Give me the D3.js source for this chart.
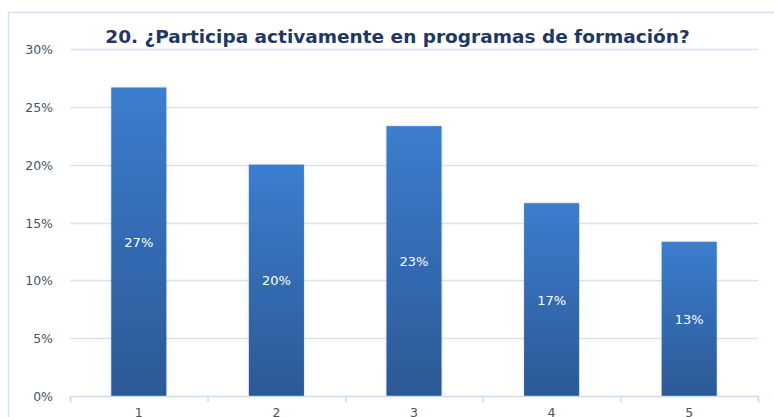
<!DOCTYPE html>
<html>
<head>
<meta charset="utf-8">
<script src="https://cdn.jsdelivr.net/npm/d3@7"></script>
<style>
  body { margin: 0; background: #fff; }
  svg { display: block; font-family: "DejaVu Sans", Verdana, sans-serif; }
</style>
</head>
<body>
<div id="chart"></div>
<script>
const categories = ["1", "2", "3", "4", "5"];
const values = [26.67, 20, 23.33, 16.67, 13.33];
const yTicks = [0, 5, 10, 15, 20, 25, 30];
const title = "20. ¿Participa activamente en programas de formación?";

const width = 774;
const height = 417;
const margin = { top: 49, right: 16, bottom: 21, left: 70 };

const svg = d3.select("#chart")
  .append("svg")
  .attr("width", width)
  .attr("height", height);

const defs = svg.append("defs");
const grad = defs.append("linearGradient")
  .attr("id", "barGrad")
  .attr("x1", 0).attr("y1", 0).attr("x2", 0).attr("y2", 1);
grad.append("stop").attr("offset", "0%").attr("stop-color", "#3b7dcf");
grad.append("stop").attr("offset", "100%").attr("stop-color", "#2c5995");

const shadow = defs.append("filter").attr("id", "shadow")
  .attr("x", "-20%").attr("y", "-5%").attr("width", "140%").attr("height", "110%");
shadow.append("feDropShadow").attr("dx", 0).attr("dy", 0).attr("stdDeviation", 1.2)
  .attr("flood-color", "#000").attr("flood-opacity", 0.22);

// chart frame (runs off the right and bottom edges)
svg.append("rect")
  .attr("x", 8.5).attr("y", 12.5)
  .attr("width", 800).attr("height", 440)
  .attr("fill", "none")
  .attr("stroke", "#d6e2f1")
  .attr("stroke-width", 1.5);

const x = d3.scaleBand()
  .domain(categories)
  .range([margin.left, width - margin.right])
  .paddingInner(0.6)
  .paddingOuter(0.3);

const y = d3.scaleLinear()
  .domain([0, 30])
  .range([height - margin.bottom, margin.top]);

// gridlines
svg.append("g")
  .selectAll("line")
  .data(yTicks.filter(d => d > 0))
  .enter().append("line")
  .attr("x1", margin.left)
  .attr("x2", width - margin.right)
  .attr("y1", d => Math.round(y(d)) + 0.5)
  .attr("y2", d => Math.round(y(d)) + 0.5)
  .attr("stroke", "#d9e3f1")
  .attr("stroke-width", 1.5);

// y labels
svg.append("g")
  .selectAll("text")
  .data(yTicks)
  .enter().append("text")
  .attr("x", 53)
  .attr("y", d => y(d) + 5)
  .attr("text-anchor", "end")
  .attr("fill", "#44546a")
  .attr("font-size", 12.5)
  .text(d => d + "%");

// bars
svg.append("g")
  .selectAll("rect")
  .data(values)
  .enter().append("rect")
  .attr("x", (d, i) => x(categories[i]))
  .attr("y", d => y(d))
  .attr("width", x.bandwidth())
  .attr("height", d => y(0) - y(d))
  .attr("fill", "url(#barGrad)")
  .attr("filter", "url(#shadow)");

// data labels
svg.append("g")
  .selectAll("text")
  .data(values)
  .enter().append("text")
  .attr("x", (d, i) => x(categories[i]) + x.bandwidth() / 2)
  .attr("y", d => (y(d) + y(0)) / 2 + 5)
  .attr("text-anchor", "middle")
  .attr("fill", "#ffffff")
  .attr("font-size", 13)
  .text(d => Math.round(d) + "%");

// x axis with ticks between categories
const edges = d3.scaleLinear().domain([0, categories.length]).range([margin.left, width - margin.right]);
const xAxis = svg.append("g")
  .attr("transform", `translate(0,${y(0)})`)
  .call(d3.axisBottom(edges).ticks(categories.length).tickSize(6).tickFormat(""));
xAxis.select(".domain").attr("stroke", "#d0dcee").attr("stroke-width", 1.5);
xAxis.selectAll(".tick line").attr("stroke", "#d0dcee").attr("stroke-width", 1.5);

svg.append("g")
  .selectAll("text")
  .data(categories)
  .enter().append("text")
  .attr("x", d => x(d) + x.bandwidth() / 2)
  .attr("y", y(0) + 21)
  .attr("text-anchor", "middle")
  .attr("fill", "#44546a")
  .attr("font-size", 12.5)
  .text(d => d);

// title, sized to span the same width as the reference
const t = svg.append("text")
  .attr("x", 397.5)
  .attr("y", 43)
  .attr("text-anchor", "middle")
  .attr("fill", "#1f3864")
  .attr("font-size", 18)
  .attr("font-weight", "bold")
  .text(title);
const w = t.node().getComputedTextLength();
t.attr("font-size", 18 * 585 / w);
</script>
</body>
</html>
